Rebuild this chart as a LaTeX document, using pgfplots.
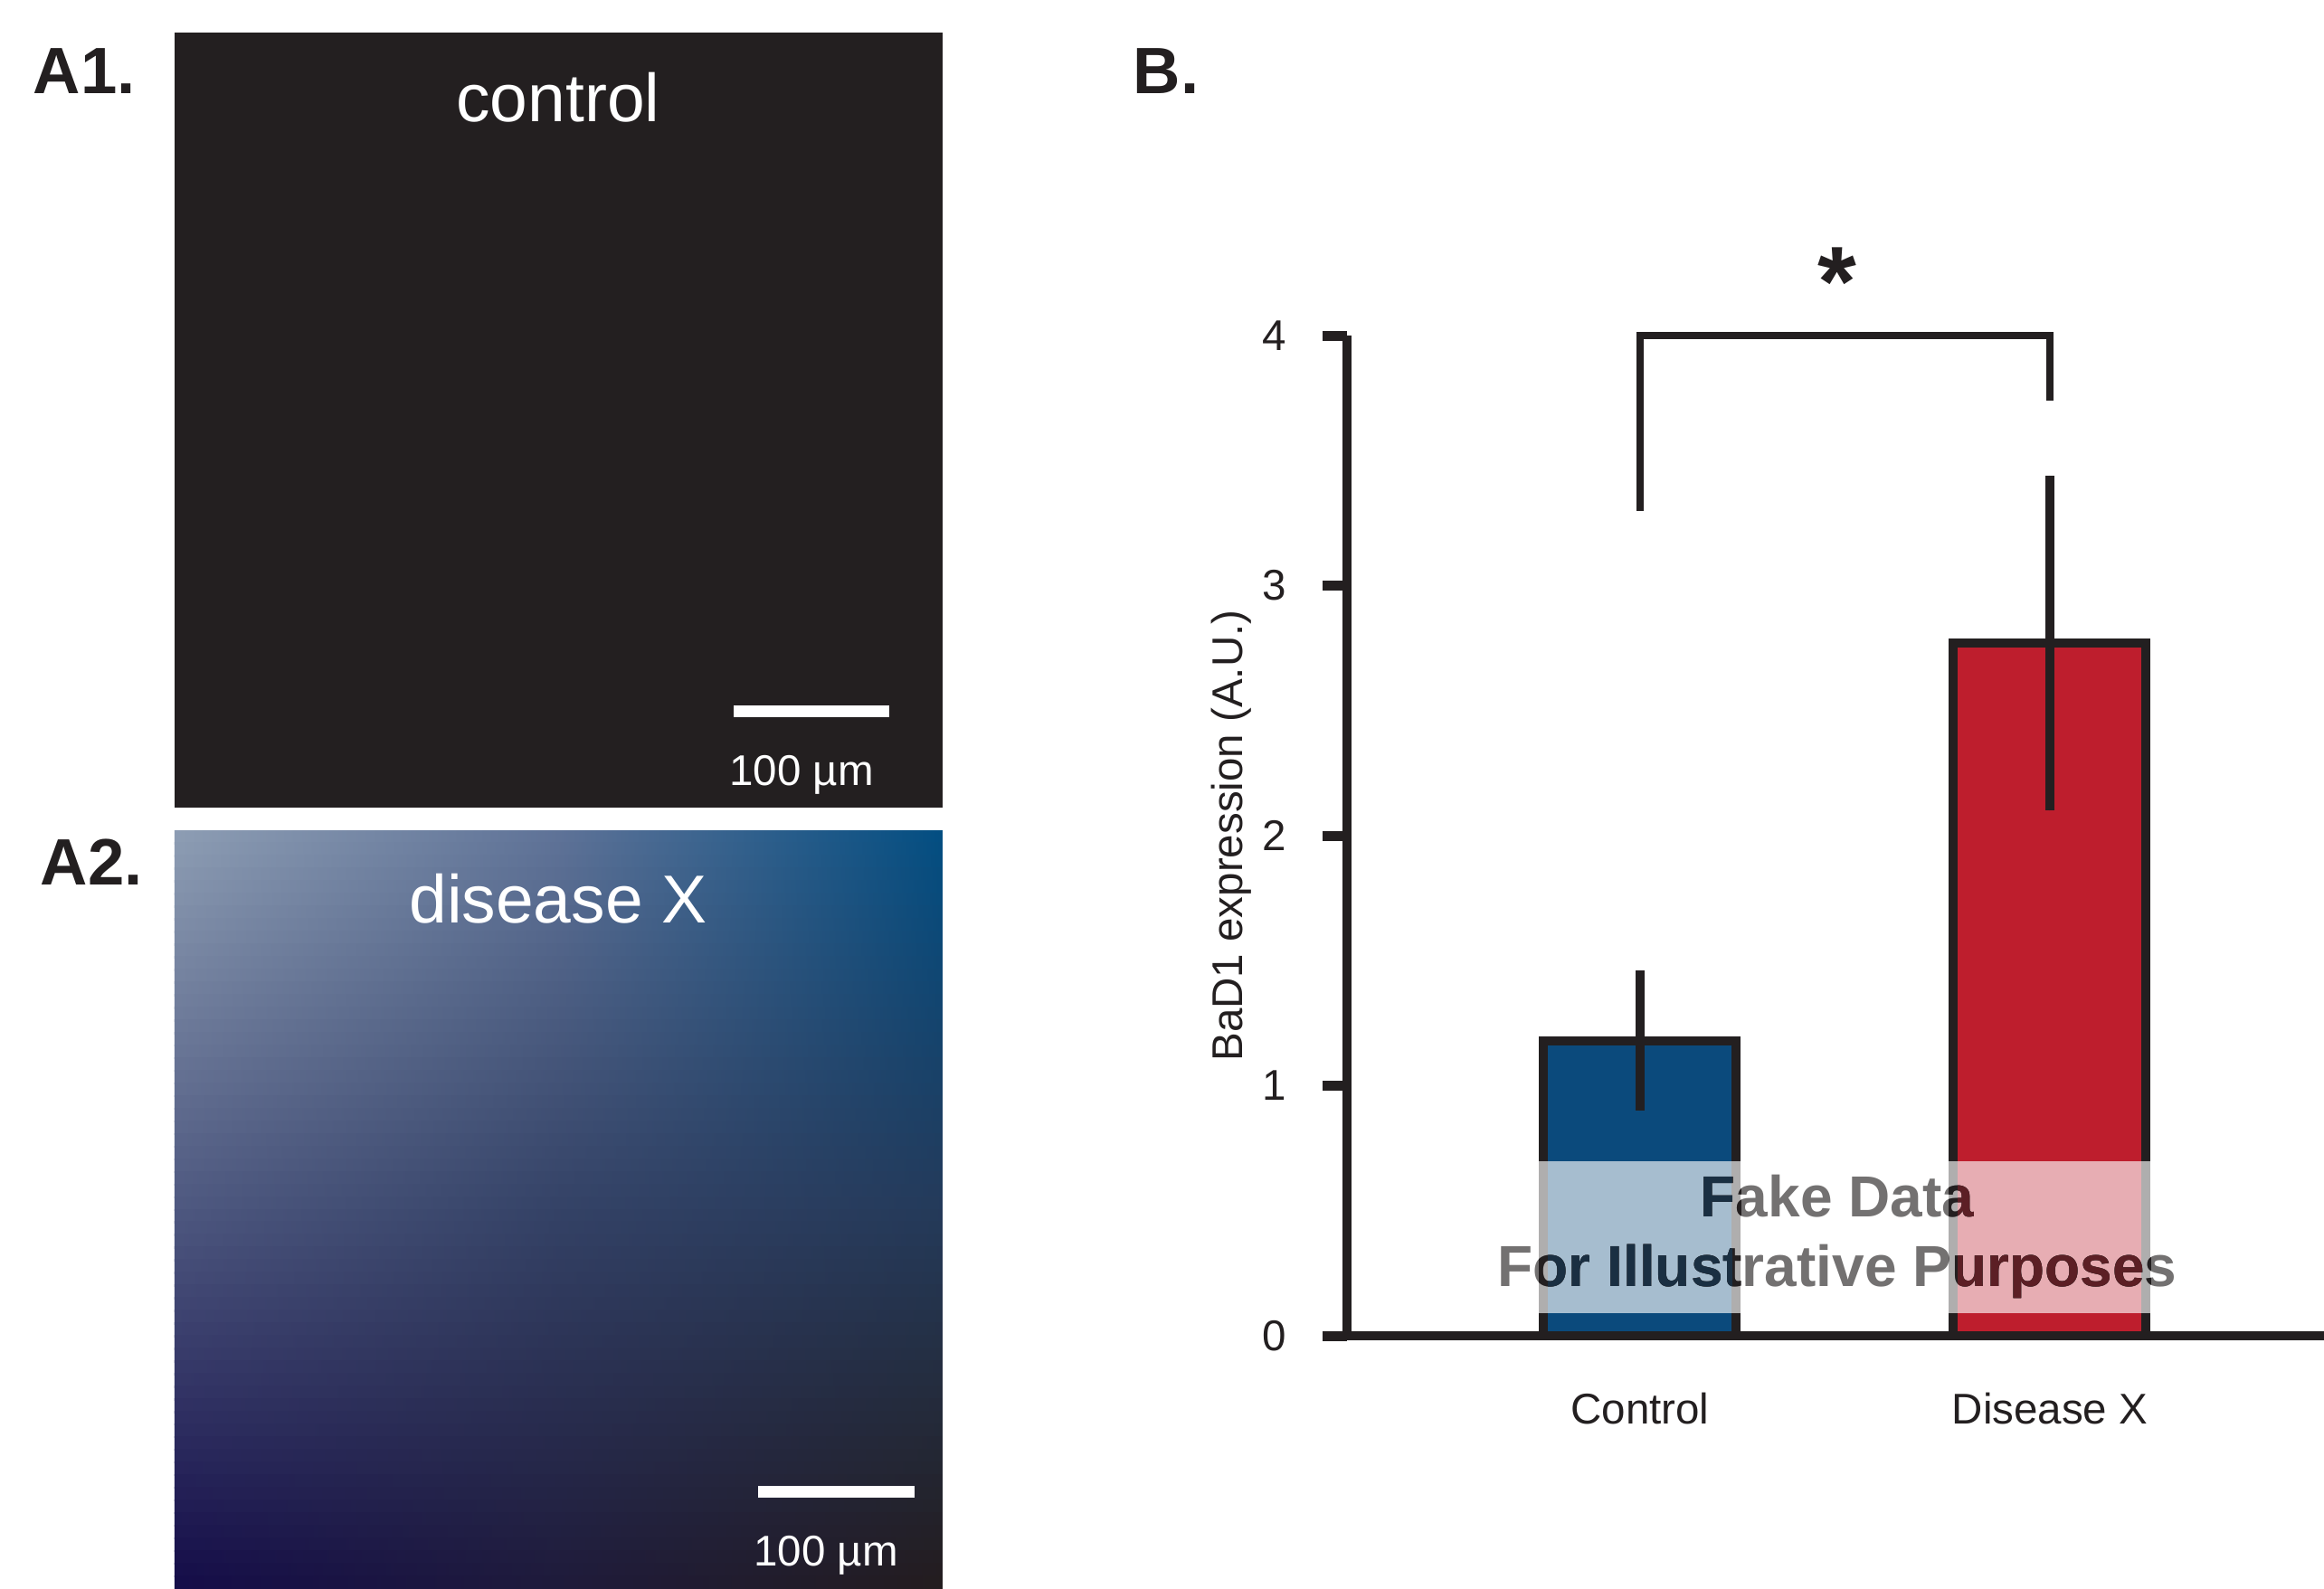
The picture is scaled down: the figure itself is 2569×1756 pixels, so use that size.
\documentclass[border=0pt]{standalone}
\usepackage{pgfplots}
\pgfplotsset{compat=1.18}
\usepackage{fontspec}
\setmainfont{Liberation Sans}
\definecolor{axiscol}{RGB}{35,31,32}
\definecolor{barblue}{RGB}{11,74,124}
\definecolor{barred}{RGB}{190,30,45}
\definecolor{wmgray}{RGB}{115,113,113}
\definecolor{wmblue}{RGB}{26,47,66}
\definecolor{wmred}{RGB}{92,31,37}
\definecolor{TL}{RGB}{142,158,180}
\definecolor{TM}{RGB}{95,115,152}
\definecolor{TR}{RGB}{2,78,130}
\definecolor{ML}{RGB}{78,88,128}
\definecolor{MM}{RGB}{52,66,102}
\definecolor{MR}{RGB}{36,58,90}
\definecolor{BL}{RGB}{20,12,72}
\definecolor{BM}{RGB}{30,26,58}
\definecolor{BR}{RGB}{35,28,30}
\newcommand\wm[1]{%
  \node[anchor=base, inner sep=0, text=#1, font=\bfseries\fontsize{12.8}{15}\selectfont] at (2031,411) {Fake Data};
  \node[anchor=base, inner sep=0, text=#1, font=\bfseries\fontsize{12.8}{15}\selectfont] at (2031,334) {For Illustrative Purposes};}
\begin{document}
\begin{tikzpicture}
\begin{scope}[x=0.2pt,y=0.2pt]
\useasboundingbox (0,0) rectangle (2569,1756);
% Panel A1
\fill[axiscol] (193,863) rectangle (1042,1720);
\node[anchor=base, inner sep=0, text=white, font=\fontsize{15}{18}\selectfont] at (617,1622) {control};
\fill[white] (811,963) rectangle (983,976);
\node[anchor=base, inner sep=0, text=white, font=\fontsize{9.5}{11}\selectfont] at (886,888) {100 µm};
% Panel A2 gradient
\foreach \i in {0,...,59}{
  \pgfmathtruncatemacro\pp{\i<30 ? round((\i+0.5)*10/3) : round((\i-29.5)*10/3)}
  \ifnum\i<30
    \colorlet{cL}{ML!\pp!TL}\colorlet{cM}{MM!\pp!TM}\colorlet{cR}{MR!\pp!TR}
  \else
    \colorlet{cL}{BL!\pp!ML}\colorlet{cM}{BM!\pp!MM}\colorlet{cR}{BR!\pp!MR}
  \fi
  \pgfmathsetmacro\ytop{838-\i*13.9667}
  \pgfmathsetmacro\ybot{\ytop-15.5}
  \shade[left color=cL, right color=cR, middle color=cM] (193,\ybot) rectangle (1042,\ytop);
}
\node[anchor=base, inner sep=0, text=white, font=\fontsize{15}{18}\selectfont] at (617,736) {disease X};
\fill[white] (838,100) rectangle (1011,113);
\node[anchor=base, inner sep=0, text=white, font=\fontsize{9.5}{11}\selectfont] at (913,25) {100 µm};
% panel labels
\node[anchor=base west, inner sep=0, text=axiscol, font=\bfseries\fontsize{14.5}{17}\selectfont] at (36,1653) {A1.};
\node[anchor=base west, inner sep=0, text=axiscol, font=\bfseries\fontsize{14.5}{17}\selectfont] at (44,778) {A2.};
\node[anchor=base west, inner sep=0, text=axiscol, font=\bfseries\fontsize{14.5}{17}\selectfont] at (1252,1653) {B.};
\end{scope}
\begin{axis}[
  at={(297.8pt,55.8pt)}, anchor=south west,
  scale only axis, width=216pt, height=221.2pt,
  xmin=-0.715, xmax=1.669, ymin=0, ymax=4,
  axis lines*=left,
  axis line style={line width=2pt, color=axiscol},
  clip=false,
  ybar, bar width=42.6pt,
  ytick={0,1,2,3,4},
  xtick={0,1}, xticklabels={Control, Disease X},
  tick align=outside, major tick length=5.4pt,
  y tick style={line width=2.2pt, color=axiscol},
  x tick style={draw=none},
  /pgf/number format/assume math mode=true,
  tick label style={font=\fontsize{9.5}{11}\selectfont, text=axiscol},
  yticklabel style={xshift=-4.4pt},
  xticklabel style={yshift=-3.6pt},
  ylabel={BaD1 expression (A.U.)},
  ylabel style={at={(axis description cs:-0.107,0.5)}, anchor=base, font=\fontsize{9.5}{11}\selectfont, text=axiscol},
]
\addplot[fill=barblue, draw=axiscol, line width=2pt, bar shift=0pt,
  error bars/.cd, y dir=both, y explicit, error mark=none,
  error bar style={line width=2pt, color=axiscol}]
  coordinates {(0,1.18) +- (0,0.28)};
\addplot[fill=barred, draw=axiscol, line width=2pt, bar shift=0pt,
  error bars/.cd, y dir=both, y explicit, error mark=none,
  error bar style={line width=2pt, color=axiscol}]
  coordinates {(1,2.77) +- (0,0.67)};
\draw[line width=1.6pt, color=axiscol, line join=miter] (axis cs:0,3.30) -- (axis cs:0,4) -- (axis cs:1,4) -- (axis cs:1,3.74);
\end{axis}
\begin{scope}[x=0.2pt,y=0.2pt]
\node[anchor=north, inner sep=0, text=axiscol, font=\bfseries\fontsize{22}{26}\selectfont] at (2031,1483) {*};
% watermark band and text
\fill[white, opacity=0.64] (1650,304) rectangle (2410,472);
\wm{wmgray}
\begin{scope}
  \clip (1701.5,290) rectangle (1924.5,480);
  \wm{axiscol}
\end{scope}
\begin{scope}
  \clip (1711.5,290) rectangle (1914.5,480);
  \wm{wmblue}
\end{scope}
\begin{scope}
  \clip (2154.5,290) rectangle (2377.5,480);
  \wm{axiscol}
\end{scope}
\begin{scope}
  \clip (2164.5,290) rectangle (2367.5,480);
  \wm{wmred}
\end{scope}
\end{scope}
\pgfresetboundingbox
\useasboundingbox (0pt,0pt) rectangle (513.8pt,351.2pt);
\end{tikzpicture}
\end{document}
